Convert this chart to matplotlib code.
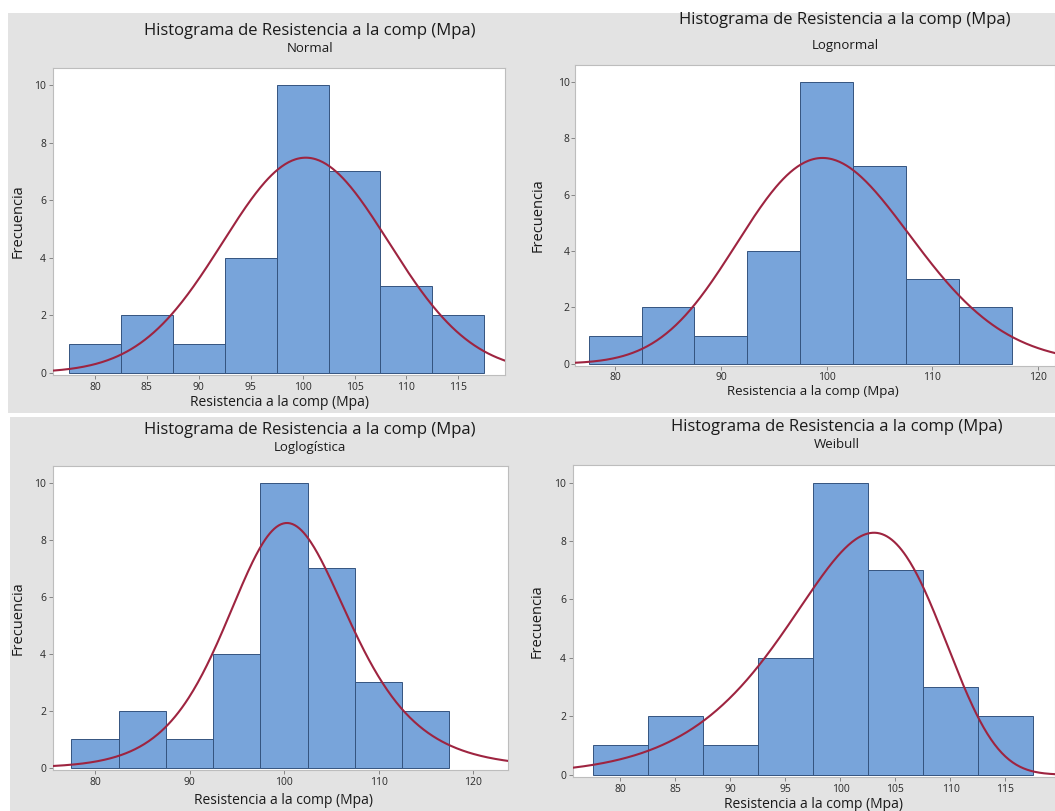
import matplotlib
matplotlib.use("Agg")
import matplotlib.pyplot as plt
from matplotlib.patches import Rectangle
import numpy as np

plt.rcParams["font.family"] = ["Open Sans", "DejaVu Sans"]

# ── Data ──
bin_centers = [80, 85, 90, 95, 100, 105, 110, 115]
counts = [1, 2, 1, 4, 10, 7, 3, 2]
bin_width = 5
n_obs = sum(counts)

titles = ["Normal", "Lognormal", "Loglogística", "Weibull"]
x_ticks = [
    [80, 85, 90, 95, 100, 105, 110, 115],
    [80, 90, 100, 110, 120],
    [80, 90, 100, 110, 120],
    [80, 85, 90, 95, 100, 105, 110, 115],
]
x_lims = [(75.95, 119.5), (76.2, 121.6), (75.55, 123.7), (75.7, 119.5)]
y_ticks = [0, 2, 4, 6, 8, 10]

# fitted parameters
normal_mu, normal_sigma = 100.3, 8.0
lognorm_loc, lognorm_scale = 4.608, 0.082
loglog_loc, loglog_scale = 4.612, 0.0434
weibull_shape, weibull_scale = 15.5, 103.5


def pdf(kind, x):
    if kind == "Normal":
        z = (x - normal_mu) / normal_sigma
        return np.exp(-z**2 / 2) / (normal_sigma * np.sqrt(2 * np.pi))
    if kind == "Lognormal":
        z = (np.log(x) - lognorm_loc) / lognorm_scale
        return np.exp(-z**2 / 2) / (x * lognorm_scale * np.sqrt(2 * np.pi))
    if kind == "Loglogística":
        z = (np.log(x) - loglog_loc) / loglog_scale
        return np.exp(-z) / (loglog_scale * (1 + np.exp(-z))**2) / x
    r = x / weibull_scale
    return (weibull_shape / weibull_scale) * r**(weibull_shape - 1) * np.exp(-r**weibull_shape)


# ── Canvas (pixel layout) ──
W, H = 1055, 811
fig = plt.figure(figsize=(W / 100, H / 100), dpi=100)
fig.patch.set_facecolor("white")

GRAY = "#e3e3e3"
BAR = "#78a4da"
EDGE = "#34547f"
CURVE = "#9e2440"
TXT = "#1a1a1a"

# panel backgrounds (x0, y0, x1, y1) in px from top-left
panels = [(8, 13, 525, 413), (525, 13, 1055, 413), (10, 417, 525, 811), (525, 417, 1055, 811)]
for x0, y0, x1, y1 in panels:
    fig.add_artist(Rectangle((x0 / W, 1 - y1 / H), (x1 - x0) / W, (y1 - y0) / H,
                             transform=fig.transFigure, facecolor=GRAY, edgecolor="none", zorder=0))

# axes boxes (left, top, right, bottom) px
boxes = [(53, 68, 505, 375), (575, 65, 1055, 366), (53, 466, 508, 770), (573, 465, 1055, 777)]
# title positions (center x, title y, subtitle y), ylabel x, xlabel y
title_pos = [(310, 31, 49), (845, 20, 45), (310, 430, 448), (837, 427, 445)]
ylabel_x = [18, 538, 18, 537]
xlabel_pos = [(280, 402), (813, 392), (283, 801), (813, 805)]
tick_pad = [2, 1, 2, 2]

for i, kind in enumerate(titles):
    l, t, r, b = boxes[i]
    ax = fig.add_axes([l / W, 1 - b / H, (r - l) / W, (b - t) / H])
    ax.set_facecolor("white")
    ax.bar(bin_centers, counts, width=bin_width, color=BAR, edgecolor=EDGE,
           linewidth=0.7, zorder=2)
    xs = np.linspace(x_lims[i][0], x_lims[i][1], 400)
    ax.plot(xs, pdf(kind, xs) * n_obs * bin_width, color=CURVE, lw=1.5, zorder=3)
    ax.set_xlim(*x_lims[i])
    ax.set_ylim(-0.08, 10.6)
    ax.set_xticks(x_ticks[i])
    ax.set_yticks(y_ticks)
    ax.tick_params(labelsize=7.5, length=3, width=0.6, color="#777777",
                   labelcolor="#2a2a2a", pad=tick_pad[i])
    for s in ax.spines.values():
        s.set_color("#bdbdbd")
        s.set_linewidth(0.8)

    cx, ty, sy = title_pos[i]
    fig.text(cx / W, 1 - ty / H, "Histograma de Resistencia a la comp (Mpa)",
             ha="center", va="center", fontsize=12, color=TXT)
    fig.text(cx / W, 1 - sy / H, kind, ha="center", va="center", fontsize=9.5, color=TXT)
    fig.text(ylabel_x[i] / W, 1 - (t + b) / 2 / H, "Frecuencia", rotation=90,
             ha="center", va="center", fontsize=10.5, color=TXT)
    xx, xy = xlabel_pos[i]
    fig.text(xx / W, 1 - xy / H, "Resistencia a la comp (Mpa)", ha="center", va="center",
             fontsize=9.5 if i == 1 else 10, color=TXT)

fig.savefig("out.png", dpi=100, facecolor="white")
plt.close(fig)
